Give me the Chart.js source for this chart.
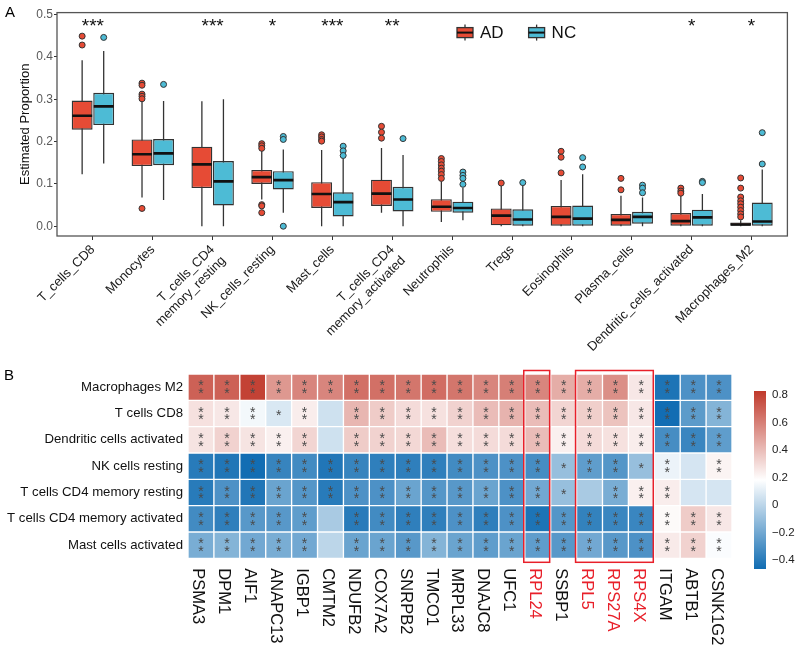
<!DOCTYPE html>
<html>
<head>
<meta charset="UTF-8">
<title>Immune cell proportions and gene correlation</title>
<script src="https://cdn.jsdelivr.net/npm/chart.js@4"></script>
<style>
  body { margin: 0; background: #fff; font-family: "Liberation Sans", Arial, sans-serif; }
  #wrap { position: relative; width: 800px; height: 650px; overflow: hidden; }
  canvas { position: absolute; }
  .tag { position: absolute; font-size: 15px; color: #000; }
</style>
</head>
<body>
<div id="wrap">
  <canvas id="boxChart" width="800" height="372" style="left:0;top:0"></canvas>
  <canvas id="heatChart" width="745" height="290" style="left:0;top:360px"></canvas>
  <canvas id="barChart" width="55" height="290" style="left:745px;top:360px"></canvas>
  <span class="tag" style="left:5px;top:3px">A</span>
  <span class="tag" style="left:4px;top:366px">B</span>
</div>

<script>
const FONT = "'Liberation Sans', Arial, sans-serif";
Chart.defaults.font.family = FONT;

// ---- panel A: estimated proportions ----
const cellTypes = ['T_cells_CD8', 'Monocytes', ['T_cells_CD4', 'memory_resting'], 'NK_cells_resting',
  'Mast_cells', ['T_cells_CD4', 'memory_activated'], 'Neutrophils', 'Tregs', 'Eosinophils',
  'Plasma_cells', 'Dendritic_cells_activated', 'Macrophages_M2'];
const signif = ['***', '', '***', '*', '***', '**', '', '', '', '', '*', '*'];

const adMin = [0.123, 0.068, 0.000, 0.063, 0.000, 0.032, 0.010, 0.000, 0.000, 0.000, 0.000, 0.000];
const adQ1  = [0.228, 0.142, 0.090, 0.100, 0.043, 0.048, 0.034, 0.002, 0.000, 0.000, 0.000, 0.000];
const adMed = [0.261, 0.170, 0.146, 0.116, 0.076, 0.077, 0.046, 0.025, 0.022, 0.015, 0.012, 0.004];
const adQ3  = [0.297, 0.205, 0.188, 0.133, 0.104, 0.110, 0.064, 0.042, 0.048, 0.029, 0.031, 0.009];
const adMax = [0.392, 0.298, 0.295, 0.178, 0.180, 0.185, 0.106, 0.096, 0.109, 0.072, 0.073, 0.014];
const adOut = [[0.449, 0.428], [0.338, 0.333, 0.312, 0.307, 0.301, 0.042], [],
  [0.195, 0.190, 0.184, 0.051, 0.048, 0.032], [0.216, 0.211, 0.205, 0.201], [0.236, 0.222, 0.208],
  [0.160, 0.153, 0.145, 0.137, 0.130, 0.122, 0.113], [0.102], [0.177, 0.163, 0.126], [0.113, 0.086],
  [0.090, 0.083, 0.078], [0.114, 0.090, 0.069, 0.060, 0.053, 0.045, 0.037, 0.029, 0.022]];

const ncMin = [0.148, 0.062, 0.000, 0.032, 0.000, 0.000, 0.014, 0.000, 0.000, 0.000, 0.000, 0.000];
const ncQ1  = [0.239, 0.144, 0.049, 0.087, 0.023, 0.035, 0.032, 0.000, 0.000, 0.006, 0.000, 0.000];
const ncMed = [0.283, 0.172, 0.106, 0.109, 0.057, 0.063, 0.043, 0.016, 0.018, 0.022, 0.021, 0.011];
const ncQ3  = [0.315, 0.206, 0.154, 0.130, 0.080, 0.093, 0.058, 0.040, 0.049, 0.034, 0.039, 0.056];
const ncMax = [0.414, 0.296, 0.300, 0.181, 0.160, 0.168, 0.091, 0.097, 0.123, 0.068, 0.076, 0.134];
const ncOut = [[0.446], [0.335], [], [0.212, 0.205, 0.000], [0.189, 0.178, 0.167], [0.207],
  [0.128, 0.120, 0.113, 0.099], [0.103], [0.162, 0.140], [0.097, 0.090, 0.079], [0.106, 0.103],
  [0.221, 0.147]];

const propTicks = [0, 0.1, 0.2, 0.3, 0.4, 0.5];

// ---- panel B: correlation heatmap ----
const cellRows = ['Macrophages M2', 'T cells CD8', 'Dendritic cells activated', 'NK cells resting',
  'T cells CD4 memory resting', 'T cells CD4 memory activated', 'Mast cells activated'];
const genes = ['PSMA3', 'DPM1', 'AIF1', 'ANAPC13', 'IGBP1', 'CMTM2', 'NDUFB2', 'COX7A2', 'SNRPB2',
  'TMCO1', 'MRPL33', 'DNAJC8', 'UFC1', 'RPL24', 'SSBP1', 'RPL5', 'RPS27A', 'RPS4X', 'ITGAM', 'ABTB1', 'CSNK1G2'];
const redGenes = ['RPL24', 'RPL5', 'RPS27A', 'RPS4X'];
const boxedGenes = [['RPL24', 'RPL24'], ['RPL5', 'RPS4X']];

const corr = [
  [0.70, 0.70, 0.80, 0.52, 0.58, 0.58, 0.65, 0.65, 0.63, 0.66, 0.63, 0.58, 0.60, 0.58, 0.45, 0.45, 0.55, 0.26, -0.43, -0.30, -0.30],
  [0.28, 0.26, 0.15, 0.08, 0.24, 0.05, 0.42, 0.35, 0.30, 0.28, 0.33, 0.40, 0.43, 0.40, 0.32, 0.34, 0.38, 0.26, -0.46, -0.26, -0.15],
  [0.27, 0.33, 0.27, 0.23, 0.32, 0.05, 0.35, 0.33, 0.31, 0.40, 0.29, 0.30, 0.30, 0.40, 0.23, 0.30, 0.28, 0.24, -0.32, -0.35, -0.25],
  [-0.40, -0.42, -0.46, -0.36, -0.33, -0.42, -0.36, -0.38, -0.38, -0.38, -0.33, -0.30, -0.30, -0.32, -0.10, -0.25, -0.28, -0.10, 0.13, 0.07, 0.22],
  [-0.40, -0.30, -0.42, -0.22, -0.28, -0.40, -0.30, -0.30, -0.22, -0.28, -0.27, -0.22, -0.30, -0.20, -0.10, -0.05, -0.18, 0.23, 0.24, 0.07, 0.07],
  [-0.33, -0.38, -0.27, -0.27, -0.25, -0.05, -0.40, -0.33, -0.38, -0.38, -0.30, -0.38, -0.30, -0.43, -0.28, -0.37, -0.35, -0.35, 0.20, 0.35, 0.26],
  [-0.18, -0.15, -0.20, -0.18, -0.20, 0.00, -0.22, -0.22, -0.27, -0.15, -0.22, -0.25, -0.22, -0.25, -0.27, -0.20, -0.27, -0.30, 0.25, 0.33, 0.17]
];
// number of asterisks shown in each cell
const stars = [
  [2, 2, 2, 2, 2, 2, 2, 2, 2, 2, 2, 2, 2, 2, 2, 2, 2, 2, 2, 2, 2],
  [2, 2, 2, 1, 2, 0, 2, 2, 2, 2, 2, 2, 2, 2, 2, 2, 2, 2, 2, 2, 2],
  [2, 2, 2, 2, 2, 0, 2, 2, 2, 2, 2, 2, 2, 2, 2, 2, 2, 2, 2, 2, 2],
  [2, 2, 2, 2, 2, 2, 2, 2, 2, 2, 2, 2, 2, 2, 1, 2, 2, 1, 2, 0, 2],
  [2, 2, 2, 2, 2, 2, 2, 2, 2, 2, 2, 2, 2, 2, 1, 0, 2, 2, 2, 0, 0],
  [2, 2, 2, 2, 2, 0, 2, 2, 2, 2, 2, 2, 2, 2, 2, 2, 2, 2, 2, 2, 2],
  [2, 2, 2, 2, 2, 0, 2, 2, 2, 2, 2, 2, 2, 2, 2, 2, 2, 2, 2, 2, 2]
];
const colorTicks = [-0.4, -0.2, 0, 0.2, 0.4, 0.6, 0.8];
const colorMin = -0.465;
const colorMax = 0.83;

// colours
const AD_COL = '#E64B35';
const NC_COL = '#4DBBD5';
const LOW = [16, 108, 178], MID = [255, 255, 255], HIGH = [192, 57, 43];
const rgb = c => `rgb(${c.map(Math.round).join(',')})`;

function colorFor(v) {
  const t = Math.min(1, Math.max(0, (v - colorMin) / (colorMax - colorMin)));
  const [a, b, f] = t < 0.5 ? [LOW, MID, t / 0.5] : [MID, HIGH, (t - 0.5) / 0.5];
  return rgb(a.map((c, k) => c + (b[k] - c) * f));
}

// ---------- panel A ----------
const dodge = 0.18;
function groupSets(label, color, off, mn, q1, med, q3, mx, outs) {
  const xs = cellTypes.map((_, i) => i + 1 + off);
  return [
    { type: 'line', label: label + ' whisker', order: 3,
      data: xs.flatMap((x, i) => [{ x, y: mn[i] }, { x, y: mx[i] }, { x, y: null }]),
      borderColor: '#333', borderWidth: 1.3, pointRadius: 0, spanGaps: false },
    { type: 'bar', label, order: 2,
      data: xs.map((x, i) => ({ x, y: [q1[i], q3[i]] })),
      backgroundColor: color, borderColor: '#333', borderWidth: 1.4, borderSkipped: false,
      grouped: false, categoryPercentage: 1, barPercentage: 0.97 },
    { type: 'scatter', label: label + ' median', order: 1,
      data: xs.map((x, i) => ({ x, y: med[i] })),
      pointStyle: 'line', pointRadius: 10, pointBorderWidth: 2.6, pointBorderColor: '#111' },
    { type: 'scatter', label: label + ' outliers', order: 0,
      data: xs.flatMap((x, i) => outs[i].map(y => ({ x, y }))),
      pointRadius: 3, pointBackgroundColor: color, pointBorderColor: '#333', pointBorderWidth: 1 }
  ];
}

const legendItems = [{ name: 'AD', color: AD_COL }, { name: 'NC', color: NC_COL }];

const boxDecor = {
  id: 'boxDecor',
  afterDraw(chart) {
    const { ctx, chartArea: a, scales: { x } } = chart;
    ctx.save();
    ctx.strokeStyle = '#555';
    ctx.lineWidth = 1.3;
    ctx.strokeRect(a.left, a.top, a.right - a.left, a.bottom - a.top);

    // significance marks
    ctx.fillStyle = '#111';
    ctx.font = '19px ' + FONT;
    ctx.textAlign = 'center';
    ctx.textBaseline = 'alphabetic';
    const m = ctx.measureText('*');
    const shift = (m.actualBoundingBoxAscent - m.actualBoundingBoxDescent) / 2;
    signif.forEach((s, i) => {
      if (s) ctx.fillText(s, x.getPixelForValue(i + 1), a.top + 10 + shift);
    });

    // legend
    let lx = 457;
    const ly = a.top + 20;
    ctx.font = '17px ' + FONT;
    ctx.textAlign = 'left';
    ctx.textBaseline = 'middle';
    legendItems.forEach(item => {
      ctx.strokeStyle = '#333';
      ctx.lineWidth = 1.3;
      ctx.beginPath();
      ctx.moveTo(lx + 8, ly - 8); ctx.lineTo(lx + 8, ly + 8);
      ctx.stroke();
      ctx.fillStyle = item.color;
      ctx.fillRect(lx, ly - 5, 16, 10);
      ctx.strokeRect(lx, ly - 5, 16, 10);
      ctx.lineWidth = 2;
      ctx.strokeStyle = '#111';
      ctx.beginPath();
      ctx.moveTo(lx, ly); ctx.lineTo(lx + 16, ly);
      ctx.stroke();
      ctx.fillStyle = '#111';
      ctx.fillText(item.name, lx + 23, ly + 1);
      lx += 23 + ctx.measureText(item.name).width + 25;
    });
    ctx.restore();
  }
};

new Chart(document.getElementById('boxChart'), {
  type: 'bar',
  data: {
    datasets: [
      ...groupSets('AD', AD_COL, -dodge, adMin, adQ1, adMed, adQ3, adMax, adOut),
      ...groupSets('NC', NC_COL, dodge, ncMin, ncQ1, ncMed, ncQ3, ncMax, ncOut)
    ]
  },
  options: {
    responsive: false,
    animation: false,
    events: [],
    layout: { padding: { left: 0, right: 9, top: 8, bottom: 0 } },
    plugins: { legend: { display: false }, tooltip: { enabled: false } },
    scales: {
      x: {
        type: 'linear',
        offset: false,
        min: 0.4,
        max: 12.6,
        afterBuildTicks: axis => { axis.ticks = cellTypes.map((_, i) => ({ value: i + 1 })); },
        afterFit: axis => { axis.height = 136; },
        grid: { offset: false, drawOnChartArea: false, drawTicks: true, tickLength: 4, color: '#333' },
        border: { display: false },
        ticks: {
          autoSkip: false, minRotation: 45, maxRotation: 45, padding: 2,
          color: '#1a1a1a', font: { size: 13 },
          callback: v => cellTypes[Math.round(v) - 1]
        }
      },
      y: {
        min: -0.0231,
        max: 0.5046,
        afterBuildTicks: axis => { axis.ticks = propTicks.map(v => ({ value: v })); },
        afterFit: axis => { axis.width = 57; },
        grid: { drawOnChartArea: false, drawTicks: true, tickLength: 3, color: '#333' },
        border: { display: false },
        ticks: { padding: 1, color: '#595959', font: { size: 12 }, callback: v => v.toFixed(1) },
        title: { display: true, text: 'Estimated Proportion', color: '#111', font: { size: 13 },
          padding: { top: 18, bottom: 0 } }
      }
    }
  },
  plugins: [boxDecor]
});

// ---------- panel B ----------
const heatDecor = {
  id: 'heatDecor',
  afterDatasetsDraw(chart) {
    const { ctx, chartArea: a, scales: { x, y } } = chart;
    const half = (x.getPixelForValue(1) - x.getPixelForValue(0)) / 2;
    ctx.save();
    ctx.fillStyle = '#4a4a4a';
    ctx.font = '14px ' + FONT;
    ctx.textAlign = 'center';
    ctx.textBaseline = 'alphabetic';
    const m = ctx.measureText('*');
    const shift = (m.actualBoundingBoxAscent - m.actualBoundingBoxDescent) / 2;
    stars.forEach((row, r) => row.forEach((n, c) => {
      const cx = x.getPixelForValue(c), cy = y.getPixelForValue(r);
      const offs = n === 2 ? [-3.7, 3.7] : n === 1 ? [0] : [];
      offs.forEach(o => ctx.fillText('*', cx, cy + o + shift));
    }));

    ctx.strokeStyle = '#E8202A';
    ctx.lineWidth = 1.5;
    boxedGenes.forEach(([g1, g2]) => {
      const l = x.getPixelForValue(genes.indexOf(g1)) - half - 1;
      const r = x.getPixelForValue(genes.indexOf(g2)) + half - 1;
      ctx.strokeRect(l, a.top - 3.5, r - l, a.bottom - a.top + 7.5);
    });

    ctx.font = '16.5px ' + FONT;
    ctx.textAlign = 'left';
    ctx.textBaseline = 'middle';
    genes.forEach((g, c) => {
      ctx.save();
      ctx.translate(x.getPixelForValue(c) - 3, a.bottom + 10);
      ctx.rotate(Math.PI / 2);
      ctx.fillStyle = redGenes.includes(g) ? '#E8202A' : '#111';
      ctx.fillText(g, 0, 0);
      ctx.restore();
    });
    ctx.restore();
  }
};

new Chart(document.getElementById('heatChart'), {
  type: 'bar',
  data: {
    labels: genes,
    datasets: cellRows.map((name, r) => ({
      label: name,
      data: genes.map(() => [r - 0.5, r + 0.5]),
      backgroundColor: corr[r].map(colorFor),
      borderColor: '#fff',
      borderWidth: 1,
      borderSkipped: false,
      grouped: false,
      categoryPercentage: 1,
      barPercentage: 1
    }))
  },
  options: {
    responsive: false,
    animation: false,
    events: [],
    layout: { padding: { left: 0, right: 13, top: 14, bottom: 0 } },
    plugins: { legend: { display: false }, tooltip: { enabled: false } },
    scales: {
      x: {
        afterFit: axis => { axis.height = 91.7; },
        grid: { display: false },
        border: { display: false },
        ticks: { display: false }
      },
      y: {
        reverse: true,
        min: -0.5,
        max: cellRows.length - 0.5,
        afterBuildTicks: axis => { axis.ticks = cellRows.map((_, i) => ({ value: i })); },
        afterFit: axis => { axis.width = 188; },
        grid: { display: false, drawTicks: false },
        border: { display: false },
        ticks: { padding: 5, color: '#111', font: { size: 13.2 }, callback: v => cellRows[Math.round(v)] }
      }
    }
  },
  plugins: [heatDecor]
});

// colour key
new Chart(document.getElementById('barChart'), {
  type: 'bar',
  data: {
    labels: [''],
    datasets: [{
      data: [[colorMin, colorMax]],
      backgroundColor: ctx => {
        const area = ctx.chart.chartArea;
        if (!area) return rgb(MID);
        const g = ctx.chart.ctx.createLinearGradient(0, area.bottom, 0, area.top);
        g.addColorStop(0, rgb(LOW));
        g.addColorStop(0.5, rgb(MID));
        g.addColorStop(1, rgb(HIGH));
        return g;
      },
      borderWidth: 0,
      categoryPercentage: 1,
      barPercentage: 1
    }]
  },
  options: {
    responsive: false,
    animation: false,
    events: [],
    layout: { padding: { left: 9, right: 0, top: 31, bottom: 81 } },
    plugins: { legend: { display: false }, tooltip: { enabled: false } },
    scales: {
      x: { display: false },
      y: {
        position: 'right',
        min: colorMin,
        max: colorMax,
        afterBuildTicks: axis => { axis.ticks = colorTicks.map(v => ({ value: v })); },
        afterFit: axis => { axis.width = 34; },
        grid: { display: false, drawTicks: false },
        border: { display: false },
        ticks: {
          padding: 6, color: '#222', font: { size: 11.5 },
          callback: v => Math.abs(v) < 1e-9 ? '0' : (v < 0 ? '\u2212' : '') + Math.abs(v).toFixed(1)
        }
      }
    }
  }
});
</script>
</body>
</html>
